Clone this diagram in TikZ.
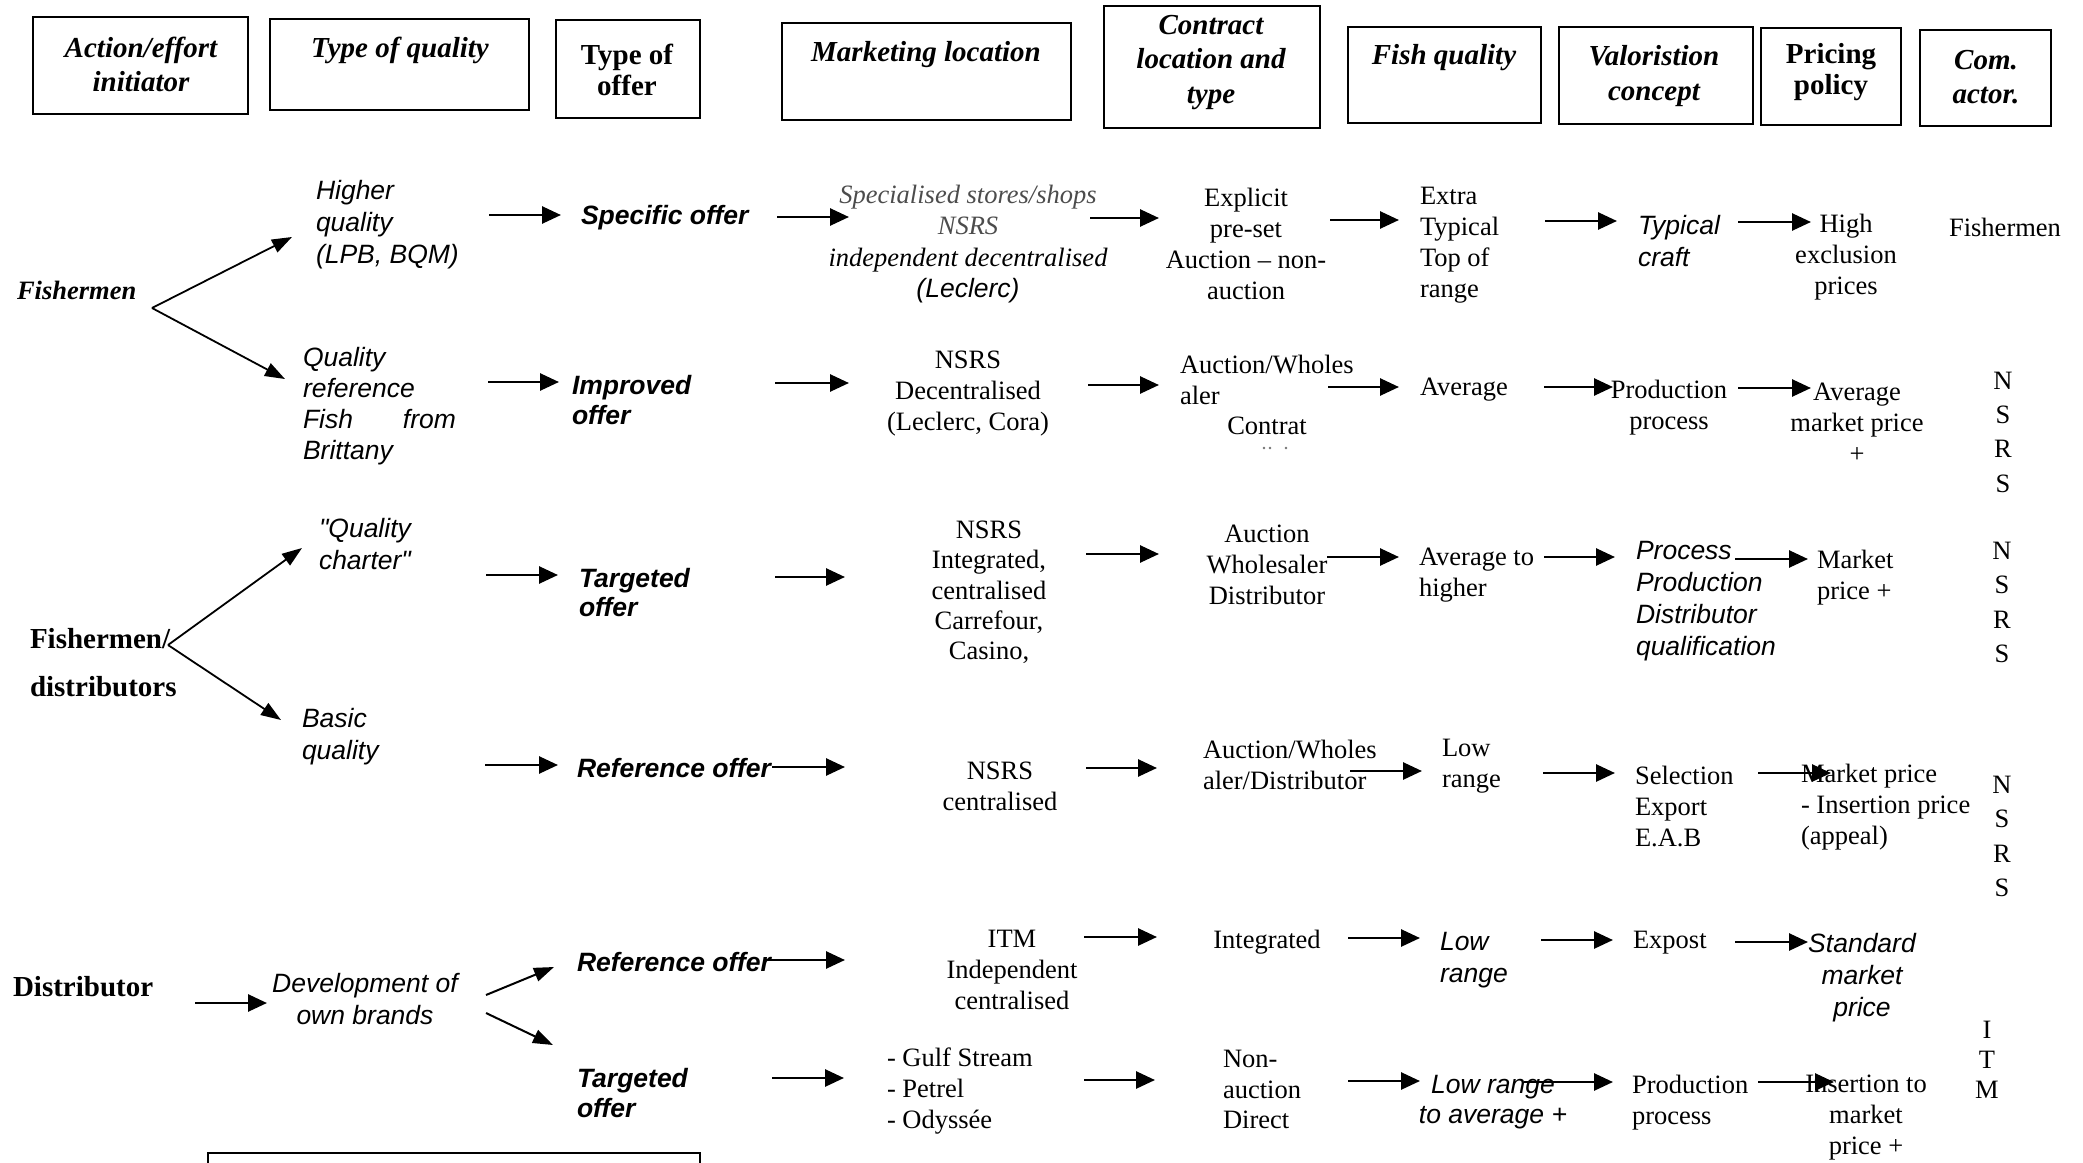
\documentclass[tikz,border=0pt]{standalone}
\usepackage{fontspec}
\setmainfont{Liberation Serif}
\newfontfamily\arialf{Liberation Sans}
\usetikzlibrary{arrows.meta}
\tikzset{
  every node/.style={inner sep=0pt, outer sep=0pt},
  hbox/.style={draw, line width=2pt, anchor=north west},
  htxt/.style={font=\fontsize{29}{34.5}\selectfont\bfseries\itshape, align=center},
  htxtu/.style={font=\fontsize{29}{31}\selectfont\bfseries, align=center},
  ser/.style={font=\fontsize{26.5}{31}\selectfont},
  seri/.style={font=\fontsize{26.5}{31.3}\selectfont\itshape},
  serb/.style={font=\fontsize{29}{31}\selectfont\bfseries},
  serbi/.style={font=\fontsize{26.5}{31}\selectfont\bfseries\itshape},
  sans/.style={font=\fontsize{26.5}{32}\selectfont\arialf\itshape},
  sansb/.style={font=\fontsize{26.5}{29.5}\selectfont\arialf\bfseries\itshape},
  vert/.style={font=\fontsize{26.5}{34.3}\selectfont, align=center},
  lft/.style={anchor=west, align=left},
  ctr/.style={anchor=center, align=center},
  arr/.style={line width=2.7pt, -{Triangle[length=19pt,width=17pt]}},
  barr/.style={line width=1.8pt, -{Triangle[length=20pt,width=14pt]}},
  speck/.style={fill=black!55, draw=none},
}
\begin{document}
\begin{tikzpicture}[x=1pt,y=-1pt]
\useasboundingbox (0,0) rectangle (2083,1162);
% ---------- header boxes
\node[hbox,minimum width=215pt,minimum height=97pt] (b1) at (33,17) {};
\node[hbox,minimum width=259pt,minimum height=91pt] (b2) at (270,19) {};
\node[hbox,minimum width=144pt,minimum height=98pt] (b3) at (556,20) {};
\node[hbox,minimum width=289pt,minimum height=97pt] (b4) at (782,23) {};
\node[hbox,minimum width=216pt,minimum height=122pt] (b5) at (1104,6) {};
\node[hbox,minimum width=193pt,minimum height=96pt] (b6) at (1348,27) {};
\node[hbox,minimum width=194pt,minimum height=97pt] (b7) at (1559,27) {};
\node[hbox,minimum width=140pt,minimum height=97pt] (b8) at (1761,28) {};
\node[hbox,minimum width=131pt,minimum height=96pt] (b9) at (1920,30) {};
\begin{scope}
\clip (0,0) rectangle (2083,1162);
\node[hbox,minimum width=492pt,minimum height=60pt] (b10) at (208,1153) {};
\end{scope}
% ---------- header texts
\node[htxt] (h1) at (141,64.5) {Action/effort\\initiator};
\node[htxt] (h2) at (400,50) {Type of quality};
\node[htxtu] (h3) at (627,70) {Type of\\offer};
\node[htxt] (h4) at (926,55) {Marketing location};
\node[htxt] (h5) at (1211,62.5) {Contract\\location and\\type};
\node[htxt] (h6) at (1444,58) {Fish quality};
\node[htxt] (h7) at (1654,76) {Valoristion\\concept};
\node[htxtu] (h8) at (1831,72.5) {Pricing\\policy};
\node[htxt] (h9) at (1986,77) {Com.\\actor.};
% ---------- row 1
\node[serbi,lft] (f1) at (17,290) {Fishermen};
\node[sans,lft] (q1) at (316,225) {Higher\\quality\\(LPB, BQM)};
\node[sansb,lft] (o1) at (581,218) {Specific offer};
\node[seri,ctr] (m1) at (968,244) {\textcolor{black!70}{Specialised stores/shops}\\\textcolor{black!70}{NSRS}\\independent decentralised\\{\arialf\itshape (Leclerc)}};
\node[ser,ctr] (c1) at (1246,244) {Explicit\\pre-set\\Auction – non-\\auction};
\node[ser,lft] (fq1) at (1420,245) {Extra\\Typical\\Top of\\range};
\node[sans,lft] (v1) at (1638,241) {Typical\\craft};
\node[ser,ctr] (p1) at (1846,257) {High\\exclusion\\prices};
\node[ser,ctr] (a1) at (2005,227) {Fishermen};
% ---------- row 2
\node[sans,lft,font=\fontsize{26.5}{31}\selectfont\arialf\itshape] (q2) at (303,406.5) {Quality\\reference\\\makebox[153pt][l]{Fish\hfill from}\\Brittany};
\node[sansb,lft] (o2) at (572,400) {Improved\\offer};
\node[ser,ctr] (m2) at (968,394) {NSRS\\Decentralised\\(Leclerc, Cora)};
\node[ser,lft] (c2) at (1180,380) {Auction/Wholes\\aler};
\node[ser,ctr] (c2b) at (1267,426) {Contrat};
\fill[speck] (1264,448) circle (1.4pt) (1270,448) circle (1.4pt) (1286,448) circle (1.4pt);
\node[ser,lft] (fq2) at (1420,390) {Average};
\node[ser,ctr] (v2) at (1669,407.5) {Production\\process};
\node[ser,ctr] (p2) at (1857,422.5) {Average\\market price\\+};
\node[vert] (a2) at (2003,432) {N\\S\\R\\S};
% ---------- row 3
\node[serb,lft] (f2) at (30,662.5) {Fishermen/\\[17pt]distributors};
\node[sans,lft] (q3) at (319,544) {"Quality\\charter"};
\node[sansb,lft] (o3) at (579,592.5) {Targeted\\offer};
\node[ser,ctr,font=\fontsize{26.5}{30.3}\selectfont] (m3) at (989,592.5) {NSRS\\Integrated,\\centralised\\Carrefour,\\Casino,};
\node[ser,ctr] (c3) at (1267,565) {Auction\\Wholesaler\\Distributor};
\node[ser,lft] (fq3) at (1419,575.5) {Average to\\higher};
\node[sans,lft] (v3) at (1636,601.5) {Process\\Production\\Distributor\\qualification};
\node[ser,lft] (p3) at (1817,577.5) {Market\\price +};
\node[vert] (a3) at (2002,602.5) {N\\S\\R\\S};
% ---------- row 4
\node[sans,lft] (q4) at (302,737) {Basic\\quality};
\node[sansb,lft] (o4) at (577,768) {Reference offer};
\node[ser,ctr] (m4) at (1000,786) {NSRS\\centralised};
\node[ser,lft] (c4) at (1203,764.5) {Auction/Wholes\\aler/Distributor};
\node[ser,lft] (fq4) at (1442,766) {Low\\range};
\node[ser,lft] (v4) at (1635,806) {Selection\\Export\\E.A.B};
\node[ser,lft] (p4) at (1801,807.5) {Market price\\- Insertion price\\(appeal)};
\node[vert] (a4) at (2002,836.5) {N\\S\\R\\S};
% ---------- row 5
\node[serb,lft] (d5) at (13,987) {Distributor};
\node[sans,ctr] (q5) at (365,999) {Development of\\own brands};
\node[sansb,lft] (o5) at (577,962) {Reference offer};
\node[ser,ctr] (m5) at (1012,969.5) {ITM\\Independent\\centralised};
\node[ser,ctr] (c5) at (1267,942) {Integrated};
\node[sans,lft] (fq5) at (1440,960) {Low\\range};
\node[ser,lft] (v5) at (1633,943) {Expost};
\node[sans,ctr] (p5) at (1862,977.5) {Standard\\market\\price};
\node[vert,font=\fontsize{26.5}{30}\selectfont] (a5) at (1987,1060) {I\\T\\M};
% ---------- row 6
\node[sansb,lft] (o6) at (577,1093) {Targeted\\offer};
\node[ser,lft,font=\fontsize{26.5}{30.7}\selectfont] (m6) at (887,1091) {- Gulf Stream\\- Petrel\\- Odyssée};
\node[ser,lft,font=\fontsize{26.5}{30.5}\selectfont] (c6) at (1223,1089.5) {Non-\\auction\\Direct};
\node[sans,ctr,font=\fontsize{26.5}{30.5}\selectfont\arialf\itshape] (fq6) at (1493,1102) {Low range\\to average +};
\node[ser,lft] (v6) at (1632,1102.5) {Production\\process};
\node[ser,ctr] (p6) at (1866,1117.5) {Insertion to\\market\\price +};
% ---------- branch arrows
\coordinate (fv1) at (152,308);
\coordinate (fv1u) at (292,237);
\coordinate (fv1d) at (285,379);
\draw[barr] (fv1) -- (fv1u);
\draw[barr] (fv1) -- (fv1d);
\coordinate (fv2) at (168,645);
\coordinate (fv2u) at (302,548);
\coordinate (fv2d) at (281,720);
\draw[barr] (fv2) -- (fv2u);
\draw[barr] (fv2) -- (fv2d);
\coordinate (dv1) at (486,995);
\coordinate (dv1u) at (554,967);
\coordinate (dv2) at (486,1013);
\coordinate (dv2d) at (553,1045);
\draw[barr,line width=2pt] (dv1) -- (dv1u);
\draw[barr,line width=2pt] (dv2) -- (dv2d);
% ---------- row arrows
% row 1
\draw[arr] (489,215) coordinate (r1a) -- (561,215) coordinate (r1b);
\draw[arr] (777,217) coordinate (r1c) -- (849,217) coordinate (r1d);
\draw[arr] (1090,218) coordinate (r1e) -- (1159,218) coordinate (r1f);
\draw[arr] (1330,220) coordinate (r1g) -- (1399,220) coordinate (r1h);
\draw[arr] (1545,221) coordinate (r1i) -- (1617,221) coordinate (r1j);
\draw[arr] (1738,222) coordinate (r1k) -- (1811,222) coordinate (r1l);
% row 2
\draw[arr] (488,382) coordinate (r2a) -- (559,382) coordinate (r2b);
\draw[arr] (775,383) coordinate (r2c) -- (849,383) coordinate (r2d);
\draw[arr] (1088,385) coordinate (r2e) -- (1159,385) coordinate (r2f);
\draw[arr] (1328,387) coordinate (r2g) -- (1399,387) coordinate (r2h);
\draw[arr] (1544,387) coordinate (r2i) -- (1613,387) coordinate (r2j);
\draw[arr] (1738,388) coordinate (r2k) -- (1811,388) coordinate (r2l);
% row 3
\draw[arr] (486,575) coordinate (r3a) -- (558,575) coordinate (r3b);
\draw[arr] (775,577) coordinate (r3c) -- (845,577) coordinate (r3d);
\draw[arr] (1086,554) coordinate (r3e) -- (1159,554) coordinate (r3f);
\draw[arr] (1327,557) coordinate (r3g) -- (1399,557) coordinate (r3h);
\draw[arr] (1544,557) coordinate (r3i) -- (1615,557) coordinate (r3j);
\draw[arr] (1735,559) coordinate (r3k) -- (1808,559) coordinate (r3l);
% row 4
\draw[arr] (485,765) coordinate (r4a) -- (558,765) coordinate (r4b);
\draw[arr] (772,767) coordinate (r4c) -- (845,767) coordinate (r4d);
\draw[arr] (1086,768) coordinate (r4e) -- (1157,768) coordinate (r4f);
\draw[arr] (1350,771) coordinate (r4g) -- (1422,771) coordinate (r4h);
\draw[arr] (1543,773) coordinate (r4i) -- (1615,773) coordinate (r4j);
\draw[arr] (1758,773) coordinate (r4k) -- (1831,773) coordinate (r4l);
% row 5
\draw[arr] (195,1003) coordinate (r5a) -- (267,1003) coordinate (r5b);
\draw[arr] (765,960) coordinate (r5c) -- (845,960) coordinate (r5d);
\draw[arr] (1084,937) coordinate (r5e) -- (1157,937) coordinate (r5f);
\draw[arr] (1348,938) coordinate (r5g) -- (1420,938) coordinate (r5h);
\draw[arr] (1541,940) coordinate (r5i) -- (1613,940) coordinate (r5j);
\draw[arr] (1735,942) coordinate (r5k) -- (1808,942) coordinate (r5l);
% row 6
\draw[arr] (772,1078) coordinate (r6a) -- (844,1078) coordinate (r6b);
\draw[arr] (1084,1080) coordinate (r6c) -- (1155,1080) coordinate (r6d);
\draw[arr] (1348,1081) coordinate (r6e) -- (1420,1081) coordinate (r6f);
\draw[arr] (1524,1082) coordinate (r6g) -- (1613,1082) coordinate (r6h);
\draw[arr] (1758,1082) coordinate (r6i) -- (1834,1082) coordinate (r6j);
\end{tikzpicture}
\end{document}
